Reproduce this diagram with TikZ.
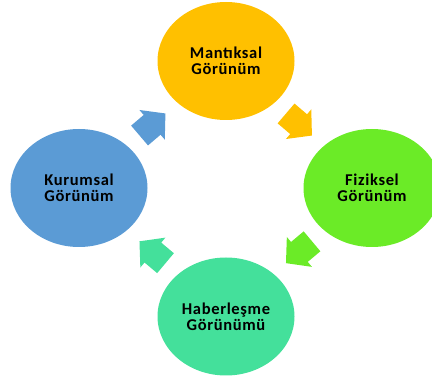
\documentclass[tikz,border=0pt]{standalone}
\usepackage{fontspec}
\setmainfont{Carlito}
\usetikzlibrary{shapes.geometric,calc}
\definecolor{cgold}{HTML}{FFC000}
\definecolor{cgreen}{HTML}{6BEB27}
\definecolor{cseafoam}{HTML}{44E09B}
\definecolor{cblue}{HTML}{5B9BD5}
\tikzset{
  view/.style={ellipse, minimum width=137pt, minimum height=118pt, inner sep=0pt,
    align=center, font=\fontsize{16.5}{16}\selectfont\bfseries\addfontfeatures{LetterSpace=4}, text=black},
  blockarrow/.pic={
    \fill[pic actions] (-17pt,-13pt) -- (-0.5pt,-13pt) -- (-0.5pt,-19.5pt) -- (17pt,0pt)
      -- (-0.5pt,19.5pt) -- (-0.5pt,13pt) -- (-17pt,13pt) -- cycle;
  }
}
\begin{document}
\begin{tikzpicture}[x=1pt,y=1pt]
\useasboundingbox (0,0) rectangle (432,378);
\clip (0,0) rectangle (432,378);
\node[view, fill=cgold] (top) at (226,317) {Mantıksal\\Görünüm};
\node[view, fill=cgreen] (right) at (372,190) {Fiziksel\\Görünüm};
\node[view, fill=cseafoam] (bottom) at (226,61.5) {Haberleşme\\Görünümü};
\node[view, fill=cblue] (left) at (79,190) {Kurumsal\\Görünüm};
\path ($(left)!0.5!(top)$) pic[fill=cblue, rotate=40.5] {blockarrow};
\path ($(top)!0.5!(right)$) pic[fill=cgold, rotate=-40.5] {blockarrow};
\path ($(right)!0.5!(bottom)$) pic[fill=cgreen, rotate=220] {blockarrow};
\path ($(bottom)!0.5!(left)$) pic[fill=cseafoam, rotate=140] {blockarrow};
\end{tikzpicture}
\end{document}
